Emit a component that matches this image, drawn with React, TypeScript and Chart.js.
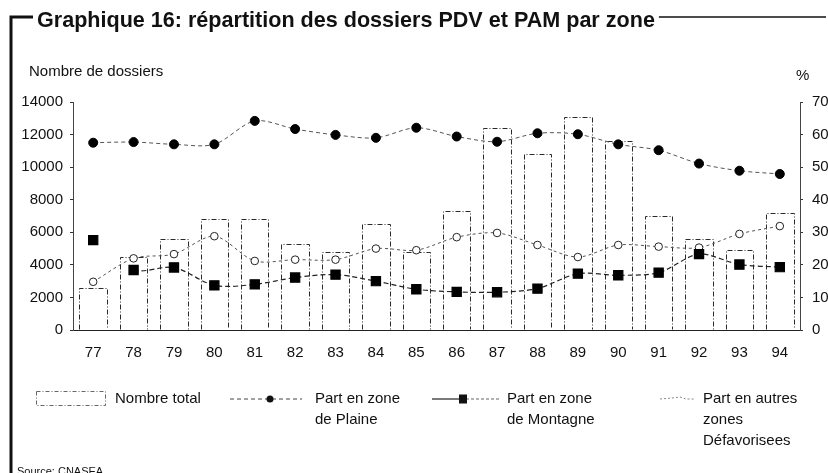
import React, { useEffect, useRef } from "react";
import { Chart, registerables } from "chart.js";

Chart.register(...registerables);

const FONT = '"Liberation Sans", Arial, Helvetica, sans-serif';

const years = ["77", "78", "79", "80", "81", "82", "83", "84", "85", "86", "87", "88", "89", "90", "91", "92", "93", "94"];
const totalDossiers = [2600, 4500, 5600, 6800, 6800, 5300, 4800, 6500, 4800, 7300, 12400, 10800, 13100, 11600, 7000, 5600, 4900, 7200];
const partPlaine = [57.5, 57.7, 57.0, 57.0, 64.2, 61.7, 59.9, 59.0, 62.1, 59.4, 57.8, 60.4, 60.1, 57.0, 55.2, 51.1, 48.9, 47.9];
const partMontagne = [27.6, 18.4, 19.2, 13.7, 14.0, 16.1, 17.0, 15.0, 12.5, 11.7, 11.6, 12.7, 17.3, 16.8, 17.6, 23.3, 20.1, 19.3];
const partAutres = [14.8, 22.0, 23.3, 28.8, 21.2, 21.6, 21.6, 25.0, 24.5, 28.5, 29.8, 26.1, 22.4, 26.1, 25.6, 25.3, 29.5, 31.9];

const leftTicks = { min: 0, max: 14000, step: 2000 };
const rightTicks = { min: 0, max: 70, step: 10 };

const titleText = "Graphique 16: répartition des dossiers PDV et PAM par zone";
const leftAxisTitle = "Nombre de dossiers";
const rightAxisTitle = "%";
const legendTotal = ["Nombre total"];
const legendPlaine = ["Part en zone", "de Plaine"];
const legendMontagne = ["Part en zone", "de Montagne"];
const legendAutres = ["Part en autres", "zones", "Défavorisees"];
const sourceText = "Source: CNASEA";

const dashedBars = {
  id: "dashedBars",
  beforeDatasetsDraw(chart: any) {
    const meta = chart.getDatasetMeta(0);
    const ctx = chart.ctx;
    ctx.save();
    ctx.strokeStyle = "#2a2a2a";
    ctx.lineWidth = 1;
    ctx.setLineDash([5, 2, 1, 2]);
    meta.data.forEach((bar: any) => {
      const { x, y, base, width } = bar.getProps(["x", "y", "base", "width"], true);
      const l = Math.round(x - width / 2) + 0.5;
      const r = Math.round(x + width / 2) + 0.5;
      const t = Math.round(y) + 0.5;
      ctx.beginPath();
      ctx.moveTo(l, base);
      ctx.lineTo(l, t);
      ctx.lineTo(r, t);
      ctx.lineTo(r, base);
      ctx.stroke();
    });
    ctx.restore();
  },
};

const decorations = {
  id: "decorations",
  afterDraw(chart: any) {
    const ctx = chart.ctx;
    ctx.save();
    ctx.fillStyle = "#111";
    ctx.textBaseline = "middle";
    // title
    ctx.font = `bold 18px ${FONT}`;
    const w18 = ctx.measureText(titleText).width;
    const size = (18 * 618) / w18;
    ctx.font = `bold ${size.toFixed(2)}px ${FONT}`;
    ctx.textAlign = "left";
    ctx.fillText(titleText, 37, 21);
    const tw = ctx.measureText(titleText).width;
    // frame
    ctx.strokeStyle = "#111";
    ctx.lineWidth = 3;
    ctx.beginPath();
    ctx.moveTo(11, 480);
    ctx.lineTo(11, 17);
    ctx.lineTo(33, 17);
    ctx.stroke();
    ctx.lineWidth = 1.5;
    ctx.beginPath();
    ctx.moveTo(37 + tw + 4, 17);
    ctx.lineTo(826, 17);
    ctx.stroke();

    // axis titles
    ctx.font = `15px ${FONT}`;
    ctx.fillText(leftAxisTitle, 29, 72);
    ctx.fillText(rightAxisTitle, 796, 76);

    // legend
    const ly = 399;
    const lh = 21;
    ctx.font = `15px ${FONT}`;
    // total
    ctx.save();
    ctx.strokeStyle = "#666";
    ctx.lineWidth = 1;
    ctx.setLineDash([4, 2, 1, 2]);
    ctx.strokeRect(36.5, 391.5, 69, 14);
    ctx.restore();
    ctx.fillText(legendTotal[0], 115, ly);
    // plaine
    ctx.save();
    ctx.strokeStyle = "#444";
    ctx.lineWidth = 1;
    ctx.setLineDash([4, 3]);
    ctx.beginPath();
    ctx.moveTo(230, ly);
    ctx.lineTo(302, ly);
    ctx.stroke();
    ctx.restore();
    ctx.beginPath();
    ctx.arc(270, ly, 3.5, 0, Math.PI * 2);
    ctx.fill();
    legendPlaine.forEach((t, i) => ctx.fillText(t, 315, ly + i * lh));
    // montagne
    ctx.save();
    ctx.strokeStyle = "#222";
    ctx.lineWidth = 1.2;
    ctx.beginPath();
    ctx.moveTo(432, ly);
    ctx.lineTo(460, ly);
    ctx.stroke();
    ctx.setLineDash([3, 2]);
    ctx.strokeStyle = "#666";
    ctx.beginPath();
    ctx.moveTo(466, ly);
    ctx.lineTo(500, ly);
    ctx.stroke();
    ctx.restore();
    ctx.fillRect(459, ly - 4.5, 8, 9);
    legendMontagne.forEach((t, i) => ctx.fillText(t, 507, ly + i * lh));
    // autres
    ctx.save();
    ctx.strokeStyle = "#888";
    ctx.lineWidth = 1;
    ctx.setLineDash([2, 2]);
    ctx.beginPath();
    ctx.moveTo(660, ly);
    ctx.lineTo(672, ly - 1);
    ctx.lineTo(680, ly - 2);
    ctx.lineTo(686, ly);
    ctx.lineTo(695, ly);
    ctx.stroke();
    ctx.restore();
    legendAutres.forEach((t, i) => ctx.fillText(t, 703, ly + i * lh));

    // source
    ctx.font = `11px ${FONT}`;
    ctx.textBaseline = "top";
    ctx.fillText(sourceText, 17, 466);
    ctx.restore();
  },
};

export default function App() {
  const ref = useRef<HTMLCanvasElement | null>(null);

  useEffect(() => {
    if (!ref.current) return;
    const tickFont = { family: FONT, size: 15 };
    const plain = (v: any) => String(v);
    const chart = new Chart(ref.current, {
      type: "bar",
      data: {
        labels: years,
        datasets: [
          {
            type: "bar",
            label: legendTotal[0],
            data: totalDossiers,
            yAxisID: "y",
            backgroundColor: "rgba(0,0,0,0)",
            borderWidth: 0,
            barPercentage: 0.68,
            categoryPercentage: 1,
            order: 10,
          } as any,
          {
            type: "line",
            label: legendPlaine.join(" "),
            data: partPlaine,
            yAxisID: "y1",
            borderColor: "#555",
            borderWidth: 1,
            borderDash: [4, 3],
            tension: 0.3,
            pointStyle: "circle",
            pointRadius: 4.5,
            pointBackgroundColor: "#000",
            pointBorderColor: "#000",
            order: 1,
          } as any,
          {
            type: "line",
            label: legendMontagne.join(" "),
            data: partMontagne,
            yAxisID: "y1",
            borderColor: "#222",
            borderWidth: 1.2,
            borderDash: [5, 3],
            tension: 0.3,
            pointStyle: "rect",
            pointRadius: 6.5,
            pointBackgroundColor: "#000",
            pointBorderColor: "#000",
            segment: {
              borderColor: (c: any) => (c.p0DataIndex === 0 ? "rgba(0,0,0,0)" : undefined),
            },
            order: 2,
          } as any,
          {
            type: "line",
            label: legendAutres.join(" "),
            data: partAutres,
            yAxisID: "y1",
            borderColor: "#555",
            borderWidth: 1,
            borderDash: [3, 3],
            tension: 0.3,
            pointStyle: "circle",
            pointRadius: 3.8,
            pointBackgroundColor: "#fff",
            pointBorderColor: "#222",
            pointBorderWidth: 1,
            order: 3,
          } as any,
        ],
      },
      options: {
        responsive: false,
        animation: false,
        devicePixelRatio: 1,
        layout: { padding: { top: 102, bottom: 113, left: 0, right: 0 } },
        plugins: {
          legend: { display: false },
          title: { display: false },
          tooltip: { enabled: false },
        },
        scales: {
          x: {
            offset: true,
            grid: { display: false, drawTicks: false },
            border: { display: true, color: "#222", dash: [4, 2], width: 1 },
            ticks: { color: "#111", font: tickFont, padding: 14, maxRotation: 0 },
            afterFit: (s: any) => {
              s.height = 30;
            },
          },
          y: {
            position: "left",
            min: leftTicks.min,
            max: leftTicks.max,
            ticks: { stepSize: leftTicks.step, color: "#111", font: tickFont, padding: 7, callback: plain },
            grid: { drawOnChartArea: false, tickLength: 3, color: "#333" },
            border: { display: true, color: "#444", dash: [2, 4], width: 1 },
            afterFit: (s: any) => {
              s.width = 73;
            },
          },
          y1: {
            position: "right",
            min: rightTicks.min,
            max: rightTicks.max,
            ticks: { stepSize: rightTicks.step, color: "#111", font: tickFont, padding: 9, callback: plain },
            grid: { drawOnChartArea: false, tickLength: 3, color: "#333" },
            border: { display: true, color: "#444", dash: [2, 4], width: 1 },
            afterFit: (s: any) => {
              s.width = 28;
            },
          },
        },
      } as any,
      plugins: [dashedBars, decorations],
    });
    return () => chart.destroy();
  }, []);

  return (
    <div style={{ position: "absolute", left: 0, top: 0, width: 828, height: 473, background: "#fff" }}>
      <canvas ref={ref} width={828} height={473} style={{ display: "block" }} />
    </div>
  );
}
